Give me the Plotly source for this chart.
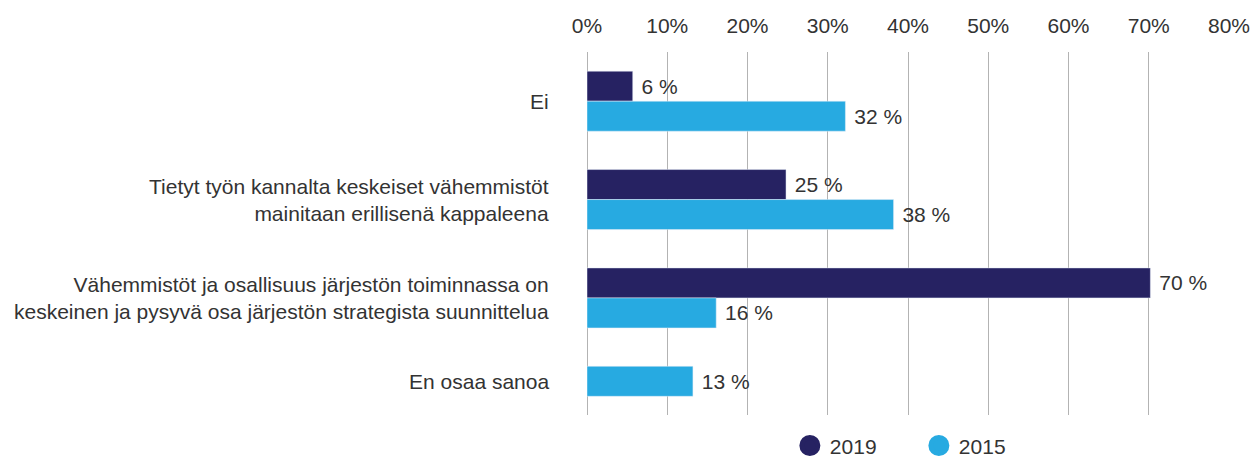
import plotly.graph_objects as go

categories = [
    "Ei",
    "Tietyt työn kannalta keskeiset vähemmistöt<br>mainitaan erillisenä kappaleena",
    "Vähemmistöt ja osallisuus järjestön toiminnassa on<br>keskeinen ja pysyvä osa järjestön strategista suunnittelua",
    "En osaa sanoa",
]
values_2019 = [5.7, 24.8, 70.2, None]
values_2015 = [32.2, 38.2, 16.1, 13.2]
x_ticks = [0, 10, 20, 30, 40, 50, 60, 70, 80]
x_tick_labels = [f"{t}%" for t in x_ticks]

C2019 = "#262262"
C2015 = "#27AAE1"
TXT = "#333333"
FONT = "Liberation Sans"
W = 0.305

fig = go.Figure()
fig.add_trace(go.Bar(
    y=categories, x=values_2019, orientation="h", name="2019",
    marker_color=C2019, width=W, offset=-W,
    text=[f" {v:.0f} %" if v is not None else "" for v in values_2019],
    textposition="outside", textfont=dict(size=21, color=TXT, family=FONT),
    cliponaxis=False, showlegend=False,
))
fig.add_trace(go.Bar(
    y=categories, x=values_2015, orientation="h", name="2015",
    marker_color=C2015, width=W, offset=[0, 0, 0, -W],
    text=[f" {v:.0f} %" for v in values_2015],
    textposition="outside", textfont=dict(size=21, color=TXT, family=FONT),
    cliponaxis=False, showlegend=False,
))
# legend entries
for name, col in [("2019", C2019), ("2015", C2015)]:
    fig.add_trace(go.Scatter(
        x=[None], y=[None], mode="markers", name=name,
        marker=dict(symbol="circle", size=16, color=col, line=dict(color=col, width=5)),
    ))

# category labels
for i, cat in enumerate(categories):
    fig.add_annotation(
        x=0, y=cat, xref="x", yref="y", text=cat, showarrow=False,
        xanchor="right", yanchor="middle", align="right", xshift=-36,
        yshift=15 if i == len(categories) - 1 else 0,
        font=dict(size=21, color=TXT, family=FONT),
    )

fig.update_layout(
    width=1257, height=463,
    margin=dict(l=587, r=28, t=52, b=48, autoexpand=False),
    barmode="overlay",
    plot_bgcolor="white", paper_bgcolor="white",
    font=dict(family=FONT, color=TXT),
    xaxis=dict(
        side="top", range=[0, 80], tickvals=x_ticks, ticktext=x_tick_labels,
        showgrid=True, gridcolor="#b3b3b3", gridwidth=1,
        zeroline=True, zerolinecolor="#b3b3b3", zerolinewidth=1,
        showline=False, ticks="", ticklabelstandoff=14,
        tickfont=dict(size=21, color=TXT, family=FONT), automargin=False,
    ),
    yaxis=dict(
        type="category", categoryorder="array", categoryarray=categories,
        range=[3.19, -0.5], showticklabels=False, showgrid=False,
        zeroline=False, showline=False, ticks="", automargin=False,
    ),
    legend=dict(
        orientation="h", x=0.316, xanchor="left", y=-0.085, yanchor="middle",
        font=dict(size=21, color=TXT, family=FONT),
        entrywidth=84, entrywidthmode="pixels", bgcolor="rgba(0,0,0,0)",
    ),
)

fig.write_html(
    "out.html",
    config={"displayModeBar": False},
    post_script="document.body.style.margin='0';document.body.style.overflow='hidden';",
)
